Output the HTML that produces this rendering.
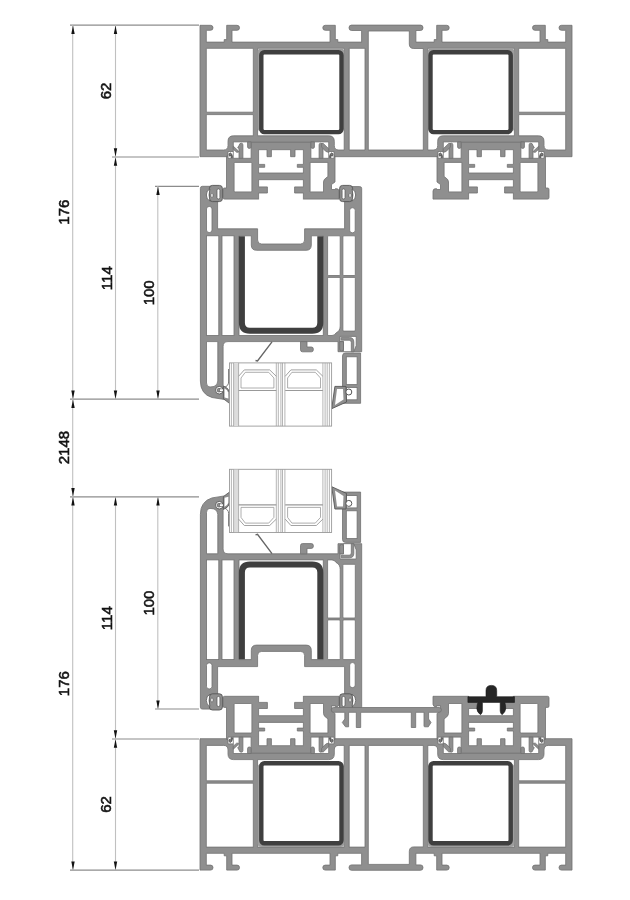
<!DOCTYPE html>
<html><head><meta charset="utf-8"><style>
html,body{margin:0;padding:0;background:#fff;width:630px;height:900px;overflow:hidden}
svg{display:block}
.g{fill:#8f8f8f;stroke:#707070;stroke-width:0.8}
.w{fill:#fff;stroke:#707070;stroke-width:0.8}
.d{fill:none;stroke:#3f3f3f;stroke-width:4}
.dl{stroke:#8c8c8c;stroke-width:1.2}
.dv{stroke:#c0c0c0;stroke-width:1.1}
.ar{fill:#111}
text{stroke:#111;stroke-width:0.55;font-family:"Liberation Sans",sans-serif;font-size:15px;fill:#111;text-anchor:middle}
</style></head><body>
<svg width="630" height="900" viewBox="0 0 630 900">
<g><path class="g" d="M200,25.3 L210.5,25.3 Q213,25.3 213,27.8 Q213,30.3 210.5,30.3 L206.3,30.3 L206.3,42.1 L224.2,42.1 L224.2,39.6 L226.7,39.6 L226.7,25.3 L237,25.3 Q239.5,25.3 239.5,27.8 Q239.5,30.3 237,30.3 L232,30.3 L232,42.1 L330,42.1 L330,30.3 L325.3,30.3 Q322.8,30.3 322.8,27.8 Q322.8,25.3 325.3,25.3 L335.3,25.3 L335.3,39.6 L337.8,39.6 L337.8,42.1 L361.6,42.1 L361.6,30.5 L351.5,30.5 Q349,30.5 349,27.8 Q349,25.1 351.5,25.1 L420.5,25.1 Q423,25.1 423,27.8 Q423,30.5 420.5,30.5 L415.9,30.5 L415.9,42.1 L434.2,42.1 L434.2,39.6 L436.7,39.6 L436.7,25.3 L446.7,25.3 Q449.2,25.3 449.2,27.8 Q449.2,30.3 446.7,30.3 L442,30.3 L442,42.1 L540,42.1 L540,30.3 L535,30.3 Q532.5,30.3 532.5,27.8 Q532.5,25.3 535,25.3 L545.3,25.3 L545.3,39.6 L547.8,39.6 L547.8,42.1 L565.7,42.1 L565.7,30.3 L561.5,30.3 Q559,30.3 559,27.8 Q559,25.3 561.5,25.3 L572,25.3 L572,156.7 L200,156.7 Z"/><g><path class="w" d="M206.3,48.3 H253.3 V112.2 H206.3 Z"/><path class="w" d="M206.3,114.6 H253.3 V135.8 H233.5 Q228,135.8 228,141.3 V145.5 Q228,150 223.5,150 H206.3 Z"/><path class="w" d="M257.6,48.3 H344.2 V150 H338.8 Q334.3,150 334.3,145.5 V141.3 Q334.3,135.8 328.8,135.8 H257.6 Z"/><rect x="257.6" y="48.3" width="86.6" height="83" rx="3.6" fill="#9d9d9d"/><rect x="262" y="53" width="78.5" height="78" fill="#fff"/><rect class="d" style="stroke-width:4.4" x="261.3" y="52.2" width="80.2" height="79.9" rx="3"/></g><g transform="translate(772,0) scale(-1,1)"><path class="w" d="M206.3,48.3 H253.3 V112.2 H206.3 Z"/><path class="w" d="M206.3,114.6 H253.3 V135.8 H233.5 Q228,135.8 228,141.3 V145.5 Q228,150 223.5,150 H206.3 Z"/><path class="w" d="M257.6,48.3 H344.2 V150 H338.8 Q334.3,150 334.3,145.5 V141.3 Q334.3,135.8 328.8,135.8 H257.6 Z"/><rect x="257.6" y="48.3" width="86.6" height="83" rx="3.6" fill="#9d9d9d"/><rect x="262" y="53" width="78.5" height="78" fill="#fff"/><rect class="d" style="stroke-width:4.4" x="261.3" y="52.2" width="80.2" height="79.9" rx="3"/></g><path class="w" d="M349.2,48.3 H365 V150 H349.2 Z"/><path class="w" d="M368.3,31 H409.3 V44 Q409.3,48.5 413.8,48.5 H423.3 V150 H368.3 Z"/><g transform="translate(281,0) scale(-1,1)"><path class="g" d="M-54,156 H54.5 V188 H56.8 Q58,188 58,189.5 V197.5 Q58,199.1 56.5,199.1 H-58 V191 Q-58,188.6 -54.5,188.6 V189.5 H-50.5 V184.5 L-54,182 Z"/><rect x="-52.4" y="141.5" width="104.8" height="17.5" fill="#8f8f8f"/><line x1="-29.7" y1="142.2" x2="29.7" y2="142.2" stroke="#707070" stroke-width="0.8"/><path class="w" d="M-22.4,149.7 H-14 V156.7 H-9.6 V149.7 H9.6 V156.7 H14 V149.7 H22.4 V164.4 H16.3 V167.3 H22.4 V173 H-22.4 V167.3 H-16.3 V164.4 H-22.4 Z"/><path class="w" d="M-22.4,179.7 H22.4 V186.9 H13.6 V193 H22.4 V201 H-22.4 V193 H-13.6 V186.9 H-22.4 Z"/><rect x="-23" y="199.55" width="46" height="4.5" fill="#fff"/><path class="w" d="M-46.9,162.4 H-29.1 V191.9 H-42.5 V182 Q-42.5,179.5 -45,178 L-46.9,176.5 Z"/><rect class="w" x="29.1" y="162.4" width="17.8" height="29.5" rx="1"/><path class="w" d="M46.5,151.5 L53,151.5 L53,158.3 L46.5,158.3 Z"/><path d="M48.3,157.6 Q48.8,153.2 50.8,152.8 Q52.4,153.6 52,155.4 L51,156.2 L49.8,155 L50,157.6 Z" fill="#7d7d7d" stroke="#444" stroke-width="0.7"/><path class="w" d="M29.9,141.9 L47.7,141.9 L47.7,158.3 L29.9,158.3 Z"/><path class="g" d="M29.9,141.9 V147 Q29.9,148.4 31.65,148.4 Q33.4,148.4 33.4,147 V141.9 Z"/><path class="g" d="M38.1,158.3 V144.8 Q38.1,143.2 39.8,143.2 Q41.5,143.2 42,145.5 L43.3,147.8 L42,148.5 V158.3 Z"/><path class="g" d="M47.7,146.2 L47.7,149.2 L44.4,152.2 L42.6,152.2 L42.6,151 Z"/><path class="w" d="M-46.5,151.5 L-53,151.5 L-53,158.3 L-46.5,158.3 Z"/><path d="M-48.3,157.6 Q-48.8,153.2 -50.8,152.8 Q-52.4,153.6 -52,155.4 L-51,156.2 L-49.8,155 L-50,157.6 Z" fill="#7d7d7d" stroke="#444" stroke-width="0.7"/><path class="w" d="M-29.9,141.9 L-47.7,141.9 L-47.7,158.3 L-29.9,158.3 Z"/><path class="g" d="M-29.9,141.9 V147 Q-29.9,148.4 -31.65,148.4 Q-33.4,148.4 -33.4,147 V141.9 Z"/><path class="g" d="M-38.1,158.3 V144.8 Q-38.1,143.2 -39.8,143.2 Q-41.5,143.2 -42,145.5 L-43.3,147.8 L-42,148.5 V158.3 Z"/><path class="g" d="M-47.7,148.8 L-42.2,143.4 L-40.6,143.6 L-40.6,147 L-44.8,151.4 L-47.7,152.4 Z"/></g><g transform="translate(491,0)"><path class="g" d="M-54,156 H54.5 V188 H56.8 Q58,188 58,189.5 V197.5 Q58,199.1 56.5,199.1 H-58 V191 Q-58,188.6 -54.5,188.6 V189.5 H-50.5 V184.5 L-54,182 Z"/><rect x="-52.4" y="141.5" width="104.8" height="17.5" fill="#8f8f8f"/><line x1="-29.7" y1="142.2" x2="29.7" y2="142.2" stroke="#707070" stroke-width="0.8"/><path class="w" d="M-22.4,149.7 H-14 V156.7 H-9.6 V149.7 H9.6 V156.7 H14 V149.7 H22.4 V164.4 H16.3 V167.3 H22.4 V173 H-22.4 V167.3 H-16.3 V164.4 H-22.4 Z"/><path class="w" d="M-22.4,179.7 H22.4 V186.9 H13.6 V193 H22.4 V201 H-22.4 V193 H-13.6 V186.9 H-22.4 Z"/><rect x="-23" y="199.55" width="46" height="4.5" fill="#fff"/><path class="w" d="M-46.9,162.4 H-29.1 V191.9 H-42.5 V182 Q-42.5,179.5 -45,178 L-46.9,176.5 Z"/><rect class="w" x="29.1" y="162.4" width="17.8" height="29.5" rx="1"/><path class="w" d="M46.5,151.5 L53,151.5 L53,158.3 L46.5,158.3 Z"/><path d="M48.3,157.6 Q48.8,153.2 50.8,152.8 Q52.4,153.6 52,155.4 L51,156.2 L49.8,155 L50,157.6 Z" fill="#7d7d7d" stroke="#444" stroke-width="0.7"/><path class="w" d="M29.9,141.9 L47.7,141.9 L47.7,158.3 L29.9,158.3 Z"/><path class="g" d="M29.9,141.9 V147 Q29.9,148.4 31.65,148.4 Q33.4,148.4 33.4,147 V141.9 Z"/><path class="g" d="M38.1,158.3 V144.8 Q38.1,143.2 39.8,143.2 Q41.5,143.2 42,145.5 L43.3,147.8 L42,148.5 V158.3 Z"/><path class="g" d="M47.7,146.2 L47.7,149.2 L44.4,152.2 L42.6,152.2 L42.6,151 Z"/><path class="w" d="M-46.5,151.5 L-53,151.5 L-53,158.3 L-46.5,158.3 Z"/><path d="M-48.3,157.6 Q-48.8,153.2 -50.8,152.8 Q-52.4,153.6 -52,155.4 L-51,156.2 L-49.8,155 L-50,157.6 Z" fill="#7d7d7d" stroke="#444" stroke-width="0.7"/><path class="w" d="M-29.9,141.9 L-47.7,141.9 L-47.7,158.3 L-29.9,158.3 Z"/><path class="g" d="M-29.9,141.9 V147 Q-29.9,148.4 -31.65,148.4 Q-33.4,148.4 -33.4,147 V141.9 Z"/><path class="g" d="M-38.1,158.3 V144.8 Q-38.1,143.2 -39.8,143.2 Q-41.5,143.2 -42,145.5 L-43.3,147.8 L-42,148.5 V158.3 Z"/><path class="g" d="M-47.7,148.8 L-42.2,143.4 L-40.6,143.6 L-40.6,147 L-44.8,151.4 L-47.7,152.4 Z"/></g><path class="g" d="M202.4,186.3 H217.6 V228.8 H257.6 V240 Q257.6,244 261.6,244 H300.6 Q304.6,244 304.6,240 V228.8 H344.6 V186.6 H359.7 Q361.7,186.6 361.7,188.6 V351.7 H338 V341.6 H228 Q223.1,341.6 223.1,346.5 V385 L224.5,399.5 L212,397.5 Q200.4,394 200.4,381 V188.3 Q200.4,186.3 202.4,186.3 Z"/><rect class="w" x="206.5" y="206.5" width="5.5" height="26" rx="2.5"/><rect class="w" x="349.7" y="207.8" width="5.5" height="25" rx="2.5"/><rect class="w" x="206.5" y="235.8" width="12.3" height="99.7"/><rect class="w" x="222" y="235.8" width="12" height="99.7"/><path class="w" d="M239,235.8 H251.3 V245 Q251.3,250.3 256.6,250.3 H306 Q311.3,250.3 311.3,245 V235.8 H323.3 V335.5 H239 Z"/><path class="d" style="stroke-width:6" d="M241.9,236.2 V322.8 Q241.9,330.8 249.9,330.8 H312.3 Q320.3,330.8 320.3,322.8 V236.2"/><rect class="w" x="327.6" y="235.8" width="12.6" height="39.7" rx="1"/><path class="w" d="M327.6,277.4 H340.2 V326 Q340.2,331 336,333 Q334.6,335.5 332,335.5 H327.6 Z"/><rect class="w" x="342.9" y="235.8" width="12.4" height="39.7" rx="1"/><rect class="w" x="342.9" y="277.4" width="12.4" height="53.7" rx="1"/><path class="w" d="M206.5,341.6 H217.8 V381 Q217.8,385 214,386.5 L210,387 Q206.5,387 206.5,383 Z"/><path class="w" d="M340,336.4 H356.2 V345.5 L353.8,351.7 H343.5 V341.6 H340 Z"/><path class="g" d="M341.2,337.6 H349.5 Q353.8,337.6 353.8,342 V351.7 H351.3 V342.5 Q351.3,340.2 349.2,340.2 H341.2 Z"/><path class="g" d="M339.7,341.6 H343.5 V349 Q343.5,351 341.6,351 Q339.7,351 339.7,349 Z"/><path class="g" d="M300.5,341.6 H307 V347 H311.5 Q313.4,347 313.4,349.4 Q313.4,351.8 311.5,351.8 H302.5 Q300.5,351.8 300.5,349.8 Z"/><circle cx="219.3" cy="390.2" r="3.8" fill="#fff" stroke="#555" stroke-width="0.9"/><circle cx="219" cy="390.2" r="1.9" fill="#8f8f8f" stroke="#555" stroke-width="0.6"/><rect x="219.4" y="388.9" width="4" height="2.6" fill="#fff" stroke="#555" stroke-width="0.6"/><path d="M228.6,369 V382 Q228.6,386 224,387.5" fill="none" stroke="#666" stroke-width="0.9"/><path d="M223.4,386 V398.8 L229.8,403.6 L229.6,393 Q229,388.5 225,386.8 Z" fill="#8f8f8f" stroke="#555" stroke-width="0.8"/><path d="M224.5,388.6 Q227.3,389.8 228.2,392.5 L228.4,398.6 L224.6,397.6 Z" fill="#fff"/><path class="g" d="M345.5,353 H360.6 V403.3 H342.5 V356 Q342.5,353 345.5,353 Z"/><rect class="w" x="346.3" y="356.8" width="10.8" height="27.8"/><rect class="w" x="346.3" y="387.5" width="10.8" height="12.3"/><path d="M334.9,386.4 H346 L346.5,402 L331.7,408.7 Z" fill="#8f8f8f" stroke="#555" stroke-width="0.9"/><path d="M337,389 H343 L343.5,399.5 L335,405 Z" fill="#fff"/><circle cx="348.8" cy="392" r="3" fill="#fff" stroke="#555" stroke-width="1"/><rect x="209.4" y="185.4" width="13" height="16.2" rx="3" fill="#8f8f8f" stroke="#555" stroke-width="0.9"/><rect x="217" y="188.9" width="2.9" height="10.1" rx="1.4" fill="#fff" stroke="#555" stroke-width="0.7"/><path d="M209.9,189 Q206.3,190.5 206.3,195 Q206.3,199.5 209.9,201 Q208.3,195 209.9,189 Z" fill="#fff" stroke="#555" stroke-width="0.8"/><rect x="210.9" y="193.6" width="2.1" height="3.6" rx="0.8" fill="#fff" stroke="#555" stroke-width="0.6"/><rect x="339.6" y="185.4" width="13" height="16.2" rx="3" fill="#8f8f8f" stroke="#555" stroke-width="0.9"/><rect x="342.1" y="188.9" width="2.9" height="10.1" rx="1.4" fill="#fff" stroke="#555" stroke-width="0.7"/><path d="M352.1,189 Q355.7,190.5 355.7,195 Q355.7,199.5 352.1,201 Q353.7,195 352.1,189 Z" fill="#fff" stroke="#555" stroke-width="0.8"/><rect x="349" y="193.6" width="2.1" height="3.6" rx="0.8" fill="#fff" stroke="#555" stroke-width="0.6"/><rect x="229.5" y="362.9" width="102.1" height="63.2" fill="#fff" stroke="#9a9a9a" stroke-width="0.9"/><rect x="233.6" y="363.3" width="5" height="62.4" fill="#dcdcdc"/><line x1="231.4" y1="362.9" x2="231.4" y2="426.1" stroke="#9c9c9c" stroke-width="0.75"/><line x1="233.6" y1="362.9" x2="233.6" y2="426.1" stroke="#9c9c9c" stroke-width="0.75"/><line x1="238.6" y1="362.9" x2="238.6" y2="426.1" stroke="#9c9c9c" stroke-width="0.75"/><line x1="276.3" y1="362.9" x2="276.3" y2="426.1" stroke="#9c9c9c" stroke-width="0.75"/><line x1="278.3" y1="362.9" x2="278.3" y2="426.1" stroke="#9c9c9c" stroke-width="0.75"/><line x1="280.9" y1="362.9" x2="280.9" y2="426.1" stroke="#9c9c9c" stroke-width="0.75"/><line x1="282.5" y1="362.9" x2="282.5" y2="426.1" stroke="#9c9c9c" stroke-width="0.75"/><line x1="284.9" y1="362.9" x2="284.9" y2="426.1" stroke="#9c9c9c" stroke-width="0.75"/><line x1="322.9" y1="362.9" x2="322.9" y2="426.1" stroke="#9c9c9c" stroke-width="0.75"/><line x1="325.1" y1="362.9" x2="325.1" y2="426.1" stroke="#9c9c9c" stroke-width="0.75"/><line x1="327.2" y1="362.9" x2="327.2" y2="426.1" stroke="#9c9c9c" stroke-width="0.75"/><line x1="329.4" y1="362.9" x2="329.4" y2="426.1" stroke="#9c9c9c" stroke-width="0.75"/><path d="M238.6,376.3 L244.3,369.9 H269.7 L276.3,376.3" fill="none" stroke="#999" stroke-width="0.9"/><path d="M241,378 L245.3,372.3 H268.7 L273.9,378 V388 H241 Z" fill="none" stroke="#999" stroke-width="0.8"/><line x1="238.6" y1="390.5" x2="276.3" y2="390.5" stroke="#999" stroke-width="1.1"/><path d="M285.2,376.3 L290.90000000000003,369.9 H316.3 L322.90000000000003,376.3" fill="none" stroke="#999" stroke-width="0.9"/><path d="M287.6,378 L291.90000000000003,372.3 H315.3 L320.5,378 V388 H287.6 Z" fill="none" stroke="#999" stroke-width="0.8"/><line x1="285.2" y1="390.5" x2="322.90000000000003" y2="390.5" stroke="#999" stroke-width="1.1"/><path d="M255.5,360.5 L257.5,361 L272,341.8" stroke="#666" stroke-width="1.4" fill="none"/></g>
<g transform="translate(0,895.4) scale(1,-1)"><path class="g" d="M200,25.3 L210.5,25.3 Q213,25.3 213,27.8 Q213,30.3 210.5,30.3 L206.3,30.3 L206.3,42.1 L224.2,42.1 L224.2,39.6 L226.7,39.6 L226.7,25.3 L237,25.3 Q239.5,25.3 239.5,27.8 Q239.5,30.3 237,30.3 L232,30.3 L232,42.1 L330,42.1 L330,30.3 L325.3,30.3 Q322.8,30.3 322.8,27.8 Q322.8,25.3 325.3,25.3 L335.3,25.3 L335.3,39.6 L337.8,39.6 L337.8,42.1 L361.6,42.1 L361.6,30.5 L351.5,30.5 Q349,30.5 349,27.8 Q349,25.1 351.5,25.1 L420.5,25.1 Q423,25.1 423,27.8 Q423,30.5 420.5,30.5 L415.9,30.5 L415.9,42.1 L434.2,42.1 L434.2,39.6 L436.7,39.6 L436.7,25.3 L446.7,25.3 Q449.2,25.3 449.2,27.8 Q449.2,30.3 446.7,30.3 L442,30.3 L442,42.1 L540,42.1 L540,30.3 L535,30.3 Q532.5,30.3 532.5,27.8 Q532.5,25.3 535,25.3 L545.3,25.3 L545.3,39.6 L547.8,39.6 L547.8,42.1 L565.7,42.1 L565.7,30.3 L561.5,30.3 Q559,30.3 559,27.8 Q559,25.3 561.5,25.3 L572,25.3 L572,156.7 L200,156.7 Z"/><g><path class="w" d="M206.3,48.3 H253.3 V112.2 H206.3 Z"/><path class="w" d="M206.3,114.6 H253.3 V135.8 H233.5 Q228,135.8 228,141.3 V145.5 Q228,150 223.5,150 H206.3 Z"/><path class="w" d="M257.6,48.3 H344.2 V150 H338.8 Q334.3,150 334.3,145.5 V141.3 Q334.3,135.8 328.8,135.8 H257.6 Z"/><rect x="257.6" y="48.3" width="86.6" height="83" rx="3.6" fill="#9d9d9d"/><rect x="262" y="53" width="78.5" height="78" fill="#fff"/><rect class="d" style="stroke-width:4.4" x="261.3" y="52.2" width="80.2" height="79.9" rx="3"/></g><g transform="translate(772,0) scale(-1,1)"><path class="w" d="M206.3,48.3 H253.3 V112.2 H206.3 Z"/><path class="w" d="M206.3,114.6 H253.3 V135.8 H233.5 Q228,135.8 228,141.3 V145.5 Q228,150 223.5,150 H206.3 Z"/><path class="w" d="M257.6,48.3 H344.2 V150 H338.8 Q334.3,150 334.3,145.5 V141.3 Q334.3,135.8 328.8,135.8 H257.6 Z"/><rect x="257.6" y="48.3" width="86.6" height="83" rx="3.6" fill="#9d9d9d"/><rect x="262" y="53" width="78.5" height="78" fill="#fff"/><rect class="d" style="stroke-width:4.4" x="261.3" y="52.2" width="80.2" height="79.9" rx="3"/></g><path class="w" d="M349.2,48.3 H365 V150 H349.2 Z"/><path class="w" d="M368.3,31 H409.3 V44 Q409.3,48.5 413.8,48.5 H423.3 V150 H368.3 Z"/><g transform="translate(281,0) scale(-1,1)"><path class="g" d="M-54,156 H54.5 V188 H56.8 Q58,188 58,189.5 V197.5 Q58,199.1 56.5,199.1 H-58 V191 Q-58,188.6 -54.5,188.6 V189.5 H-50.5 V184.5 L-54,182 Z"/><rect x="-52.4" y="141.5" width="104.8" height="17.5" fill="#8f8f8f"/><line x1="-29.7" y1="142.2" x2="29.7" y2="142.2" stroke="#707070" stroke-width="0.8"/><path class="w" d="M-22.4,149.7 H-14 V156.7 H-9.6 V149.7 H9.6 V156.7 H14 V149.7 H22.4 V164.4 H16.3 V167.3 H22.4 V173 H-22.4 V167.3 H-16.3 V164.4 H-22.4 Z"/><path class="w" d="M-22.4,179.7 H22.4 V186.9 H13.6 V193 H22.4 V201 H-22.4 V193 H-13.6 V186.9 H-22.4 Z"/><rect x="-23" y="199.55" width="46" height="4.5" fill="#fff"/><path class="w" d="M-46.9,162.4 H-29.1 V191.9 H-42.5 V182 Q-42.5,179.5 -45,178 L-46.9,176.5 Z"/><rect class="w" x="29.1" y="162.4" width="17.8" height="29.5" rx="1"/><path class="w" d="M46.5,151.5 L53,151.5 L53,158.3 L46.5,158.3 Z"/><path d="M48.3,157.6 Q48.8,153.2 50.8,152.8 Q52.4,153.6 52,155.4 L51,156.2 L49.8,155 L50,157.6 Z" fill="#7d7d7d" stroke="#444" stroke-width="0.7"/><path class="w" d="M29.9,141.9 L47.7,141.9 L47.7,158.3 L29.9,158.3 Z"/><path class="g" d="M29.9,141.9 V147 Q29.9,148.4 31.65,148.4 Q33.4,148.4 33.4,147 V141.9 Z"/><path class="g" d="M38.1,158.3 V144.8 Q38.1,143.2 39.8,143.2 Q41.5,143.2 42,145.5 L43.3,147.8 L42,148.5 V158.3 Z"/><path class="g" d="M47.7,146.2 L47.7,149.2 L44.4,152.2 L42.6,152.2 L42.6,151 Z"/><path class="w" d="M-46.5,151.5 L-53,151.5 L-53,158.3 L-46.5,158.3 Z"/><path d="M-48.3,157.6 Q-48.8,153.2 -50.8,152.8 Q-52.4,153.6 -52,155.4 L-51,156.2 L-49.8,155 L-50,157.6 Z" fill="#7d7d7d" stroke="#444" stroke-width="0.7"/><path class="w" d="M-29.9,141.9 L-47.7,141.9 L-47.7,158.3 L-29.9,158.3 Z"/><path class="g" d="M-29.9,141.9 V147 Q-29.9,148.4 -31.65,148.4 Q-33.4,148.4 -33.4,147 V141.9 Z"/><path class="g" d="M-38.1,158.3 V144.8 Q-38.1,143.2 -39.8,143.2 Q-41.5,143.2 -42,145.5 L-43.3,147.8 L-42,148.5 V158.3 Z"/><path class="g" d="M-47.7,148.8 L-42.2,143.4 L-40.6,143.6 L-40.6,147 L-44.8,151.4 L-47.7,152.4 Z"/></g><g transform="translate(491,0)"><path class="g" d="M-54,156 H54.5 V188 H56.8 Q58,188 58,189.5 V197.5 Q58,199.1 56.5,199.1 H-58 V191 Q-58,188.6 -54.5,188.6 V189.5 H-50.5 V184.5 L-54,182 Z"/><rect x="-52.4" y="141.5" width="104.8" height="17.5" fill="#8f8f8f"/><line x1="-29.7" y1="142.2" x2="29.7" y2="142.2" stroke="#707070" stroke-width="0.8"/><path class="w" d="M-22.4,149.7 H-14 V156.7 H-9.6 V149.7 H9.6 V156.7 H14 V149.7 H22.4 V164.4 H16.3 V167.3 H22.4 V173 H-22.4 V167.3 H-16.3 V164.4 H-22.4 Z"/><path class="w" d="M-22.4,179.7 H22.4 V186.9 H13.6 V193 H22.4 V201 H-22.4 V193 H-13.6 V186.9 H-22.4 Z"/><rect x="-23" y="199.55" width="46" height="4.5" fill="#fff"/><path class="w" d="M-46.9,162.4 H-29.1 V191.9 H-42.5 V182 Q-42.5,179.5 -45,178 L-46.9,176.5 Z"/><rect class="w" x="29.1" y="162.4" width="17.8" height="29.5" rx="1"/><path class="w" d="M46.5,151.5 L53,151.5 L53,158.3 L46.5,158.3 Z"/><path d="M48.3,157.6 Q48.8,153.2 50.8,152.8 Q52.4,153.6 52,155.4 L51,156.2 L49.8,155 L50,157.6 Z" fill="#7d7d7d" stroke="#444" stroke-width="0.7"/><path class="w" d="M29.9,141.9 L47.7,141.9 L47.7,158.3 L29.9,158.3 Z"/><path class="g" d="M29.9,141.9 V147 Q29.9,148.4 31.65,148.4 Q33.4,148.4 33.4,147 V141.9 Z"/><path class="g" d="M38.1,158.3 V144.8 Q38.1,143.2 39.8,143.2 Q41.5,143.2 42,145.5 L43.3,147.8 L42,148.5 V158.3 Z"/><path class="g" d="M47.7,146.2 L47.7,149.2 L44.4,152.2 L42.6,152.2 L42.6,151 Z"/><path class="w" d="M-46.5,151.5 L-53,151.5 L-53,158.3 L-46.5,158.3 Z"/><path d="M-48.3,157.6 Q-48.8,153.2 -50.8,152.8 Q-52.4,153.6 -52,155.4 L-51,156.2 L-49.8,155 L-50,157.6 Z" fill="#7d7d7d" stroke="#444" stroke-width="0.7"/><path class="w" d="M-29.9,141.9 L-47.7,141.9 L-47.7,158.3 L-29.9,158.3 Z"/><path class="g" d="M-29.9,141.9 V147 Q-29.9,148.4 -31.65,148.4 Q-33.4,148.4 -33.4,147 V141.9 Z"/><path class="g" d="M-38.1,158.3 V144.8 Q-38.1,143.2 -39.8,143.2 Q-41.5,143.2 -42,145.5 L-43.3,147.8 L-42,148.5 V158.3 Z"/><path class="g" d="M-47.7,148.8 L-42.2,143.4 L-40.6,143.6 L-40.6,147 L-44.8,151.4 L-47.7,152.4 Z"/></g><path class="g" d="M202.4,186.3 H217.6 V228.8 H257.6 V240 Q257.6,244 261.6,244 H300.6 Q304.6,244 304.6,240 V228.8 H344.6 V186.6 H359.7 Q361.7,186.6 361.7,188.6 V351.7 H338 V341.6 H228 Q223.1,341.6 223.1,346.5 V385 L224.5,399.5 L212,397.5 Q200.4,394 200.4,381 V188.3 Q200.4,186.3 202.4,186.3 Z"/><rect class="w" x="206.5" y="206.5" width="5.5" height="26" rx="2.5"/><rect class="w" x="349.7" y="207.8" width="5.5" height="25" rx="2.5"/><rect class="w" x="206.5" y="235.8" width="12.3" height="99.7"/><rect class="w" x="222" y="235.8" width="12" height="99.7"/><path class="w" d="M239,235.8 H251.3 V245 Q251.3,250.3 256.6,250.3 H306 Q311.3,250.3 311.3,245 V235.8 H323.3 V335.5 H239 Z"/><path class="d" style="stroke-width:6" d="M241.9,236.2 V322.8 Q241.9,330.8 249.9,330.8 H312.3 Q320.3,330.8 320.3,322.8 V236.2"/><rect class="w" x="327.6" y="235.8" width="12.6" height="39.7" rx="1"/><path class="w" d="M327.6,277.4 H340.2 V326 Q340.2,331 336,333 Q334.6,335.5 332,335.5 H327.6 Z"/><rect class="w" x="342.9" y="235.8" width="12.4" height="39.7" rx="1"/><rect class="w" x="342.9" y="277.4" width="12.4" height="53.7" rx="1"/><path class="w" d="M206.5,341.6 H217.8 V381 Q217.8,385 214,386.5 L210,387 Q206.5,387 206.5,383 Z"/><path class="w" d="M340,336.4 H356.2 V345.5 L353.8,351.7 H343.5 V341.6 H340 Z"/><path class="g" d="M341.2,337.6 H349.5 Q353.8,337.6 353.8,342 V351.7 H351.3 V342.5 Q351.3,340.2 349.2,340.2 H341.2 Z"/><path class="g" d="M339.7,341.6 H343.5 V349 Q343.5,351 341.6,351 Q339.7,351 339.7,349 Z"/><path class="g" d="M300.5,341.6 H307 V347 H311.5 Q313.4,347 313.4,349.4 Q313.4,351.8 311.5,351.8 H302.5 Q300.5,351.8 300.5,349.8 Z"/><circle cx="219.3" cy="390.2" r="3.8" fill="#fff" stroke="#555" stroke-width="0.9"/><circle cx="219" cy="390.2" r="1.9" fill="#8f8f8f" stroke="#555" stroke-width="0.6"/><rect x="219.4" y="388.9" width="4" height="2.6" fill="#fff" stroke="#555" stroke-width="0.6"/><path d="M228.6,369 V382 Q228.6,386 224,387.5" fill="none" stroke="#666" stroke-width="0.9"/><path d="M223.4,386 V398.8 L229.8,403.6 L229.6,393 Q229,388.5 225,386.8 Z" fill="#8f8f8f" stroke="#555" stroke-width="0.8"/><path d="M224.5,388.6 Q227.3,389.8 228.2,392.5 L228.4,398.6 L224.6,397.6 Z" fill="#fff"/><path class="g" d="M345.5,353 H360.6 V403.3 H342.5 V356 Q342.5,353 345.5,353 Z"/><rect class="w" x="346.3" y="356.8" width="10.8" height="27.8"/><rect class="w" x="346.3" y="387.5" width="10.8" height="12.3"/><path d="M334.9,386.4 H346 L346.5,402 L331.7,408.7 Z" fill="#8f8f8f" stroke="#555" stroke-width="0.9"/><path d="M337,389 H343 L343.5,399.5 L335,405 Z" fill="#fff"/><circle cx="348.8" cy="392" r="3" fill="#fff" stroke="#555" stroke-width="1"/><rect x="209.4" y="185.4" width="13" height="16.2" rx="3" fill="#8f8f8f" stroke="#555" stroke-width="0.9"/><rect x="217" y="188.9" width="2.9" height="10.1" rx="1.4" fill="#fff" stroke="#555" stroke-width="0.7"/><path d="M209.9,189 Q206.3,190.5 206.3,195 Q206.3,199.5 209.9,201 Q208.3,195 209.9,189 Z" fill="#fff" stroke="#555" stroke-width="0.8"/><rect x="210.9" y="193.6" width="2.1" height="3.6" rx="0.8" fill="#fff" stroke="#555" stroke-width="0.6"/><rect x="339.6" y="185.4" width="13" height="16.2" rx="3" fill="#8f8f8f" stroke="#555" stroke-width="0.9"/><rect x="342.1" y="188.9" width="2.9" height="10.1" rx="1.4" fill="#fff" stroke="#555" stroke-width="0.7"/><path d="M352.1,189 Q355.7,190.5 355.7,195 Q355.7,199.5 352.1,201 Q353.7,195 352.1,189 Z" fill="#fff" stroke="#555" stroke-width="0.8"/><rect x="349" y="193.6" width="2.1" height="3.6" rx="0.8" fill="#fff" stroke="#555" stroke-width="0.6"/><rect x="229.5" y="362.9" width="102.1" height="63.2" fill="#fff" stroke="#9a9a9a" stroke-width="0.9"/><rect x="233.6" y="363.3" width="5" height="62.4" fill="#dcdcdc"/><line x1="231.4" y1="362.9" x2="231.4" y2="426.1" stroke="#9c9c9c" stroke-width="0.75"/><line x1="233.6" y1="362.9" x2="233.6" y2="426.1" stroke="#9c9c9c" stroke-width="0.75"/><line x1="238.6" y1="362.9" x2="238.6" y2="426.1" stroke="#9c9c9c" stroke-width="0.75"/><line x1="276.3" y1="362.9" x2="276.3" y2="426.1" stroke="#9c9c9c" stroke-width="0.75"/><line x1="278.3" y1="362.9" x2="278.3" y2="426.1" stroke="#9c9c9c" stroke-width="0.75"/><line x1="280.9" y1="362.9" x2="280.9" y2="426.1" stroke="#9c9c9c" stroke-width="0.75"/><line x1="282.5" y1="362.9" x2="282.5" y2="426.1" stroke="#9c9c9c" stroke-width="0.75"/><line x1="284.9" y1="362.9" x2="284.9" y2="426.1" stroke="#9c9c9c" stroke-width="0.75"/><line x1="322.9" y1="362.9" x2="322.9" y2="426.1" stroke="#9c9c9c" stroke-width="0.75"/><line x1="325.1" y1="362.9" x2="325.1" y2="426.1" stroke="#9c9c9c" stroke-width="0.75"/><line x1="327.2" y1="362.9" x2="327.2" y2="426.1" stroke="#9c9c9c" stroke-width="0.75"/><line x1="329.4" y1="362.9" x2="329.4" y2="426.1" stroke="#9c9c9c" stroke-width="0.75"/><path d="M238.6,376.3 L244.3,369.9 H269.7 L276.3,376.3" fill="none" stroke="#999" stroke-width="0.9"/><path d="M241,378 L245.3,372.3 H268.7 L273.9,378 V388 H241 Z" fill="none" stroke="#999" stroke-width="0.8"/><line x1="238.6" y1="390.5" x2="276.3" y2="390.5" stroke="#999" stroke-width="1.1"/><path d="M285.2,376.3 L290.90000000000003,369.9 H316.3 L322.90000000000003,376.3" fill="none" stroke="#999" stroke-width="0.9"/><path d="M287.6,378 L291.90000000000003,372.3 H315.3 L320.5,378 V388 H287.6 Z" fill="none" stroke="#999" stroke-width="0.8"/><line x1="285.2" y1="390.5" x2="322.90000000000003" y2="390.5" stroke="#999" stroke-width="1.1"/><path d="M255.5,360.5 L257.5,361 L272,341.8" stroke="#666" stroke-width="1.4" fill="none"/></g>
<path class="g" d="M333.5,707.5 H439 Q441.4,707.5 441.4,709.9 Q441.4,712.3 439,712.3 H428.6 V719 L431,722.5 L428.3,726.8 H424.8 Q424,726.8 424,726 V712.3 H415.7 V727.5 H411.3 V712.3 H360.7 V727.5 H356.3 V712.3 H348.6 V726.8 H345.5 L342.3,722.5 L344.8,719 V712.3 H333.5 Q331.2,712.3 331.2,709.9 Q331.2,707.5 333.5,707.5 Z"/><path d="M467.9,696.7 H486 V690.5 Q486,685.4 491.35,685.4 Q496.7,685.4 496.7,690.5 V696.7 H514.5 V702.4 H504.8 Q505.9,706 505.7,709 Q505.3,712.5 502,714.7 Q500.2,713 500.2,711 V702.4 H482.4 V711 Q482.4,713 480.6,714.7 Q477.2,712.5 476.9,709 Q476.7,706 477.9,702.4 H467.9 Z" fill="#262626" stroke="#1a1a1a" stroke-width="0.6"/>
<g style="opacity:0.995"><line class="dl" x1="70" y1="25.2" x2="199" y2="25.2"/>
<line class="dl" x1="112" y1="157" x2="199" y2="157"/>
<line class="dl" x1="155" y1="186.4" x2="199" y2="186.4"/>
<line class="dl" x1="70" y1="399.2" x2="199" y2="399.2"/>
<line class="dl" x1="70" y1="496.8" x2="199" y2="496.8"/>
<line class="dl" x1="155" y1="709" x2="199" y2="709"/>
<line class="dl" x1="112" y1="739" x2="199" y2="739"/>
<line class="dl" x1="70" y1="870.2" x2="199" y2="870.2"/>
<line class="dv" x1="72.7" y1="25" x2="72.7" y2="870"/>
<line class="dv" x1="115.5" y1="25" x2="115.5" y2="399"/>
<line class="dv" x1="115.5" y1="497" x2="115.5" y2="870"/>
<line class="dv" x1="157.8" y1="186" x2="157.8" y2="399"/>
<line class="dv" x1="157.8" y1="497" x2="157.8" y2="709"/>
<path class="ar" d="M73,25.5 L71.3,34.0 L74.7,34.0 Z"/>
<path class="ar" d="M115.5,25.5 L113.8,34.0 L117.2,34.0 Z"/>
<path class="ar" d="M115.5,156.7 L113.8,148.2 L117.2,148.2 Z"/>
<path class="ar" d="M115.5,157.3 L113.8,165.8 L117.2,165.8 Z"/>
<path class="ar" d="M158,186.6 L156.3,195.1 L159.7,195.1 Z"/>
<path class="ar" d="M73,399 L71.3,390.5 L74.7,390.5 Z"/>
<path class="ar" d="M73,399.4 L71.3,407.9 L74.7,407.9 Z"/>
<path class="ar" d="M115.5,399 L113.8,390.5 L117.2,390.5 Z"/>
<path class="ar" d="M158,399 L156.3,390.5 L159.7,390.5 Z"/>
<path class="ar" d="M73,496.6 L71.3,488.1 L74.7,488.1 Z"/>
<path class="ar" d="M73,497 L71.3,505.5 L74.7,505.5 Z"/>
<path class="ar" d="M115.5,497 L113.8,505.5 L117.2,505.5 Z"/>
<path class="ar" d="M158,497 L156.3,505.5 L159.7,505.5 Z"/>
<path class="ar" d="M158,709 L156.3,700.5 L159.7,700.5 Z"/>
<path class="ar" d="M115.5,738.8 L113.8,730.3 L117.2,730.3 Z"/>
<path class="ar" d="M115.5,739.2 L113.8,747.7 L117.2,747.7 Z"/>
<path class="ar" d="M73,870 L71.3,861.5 L74.7,861.5 Z"/>
<path class="ar" d="M115.5,870 L113.8,861.5 L117.2,861.5 Z"/>
<text x="0" y="0" transform="translate(111.4,91) rotate(-90)">62</text>
<text x="0" y="0" transform="translate(68.7,212.2) rotate(-90)">176</text>
<text x="0" y="0" transform="translate(111.5,278.2) rotate(-90)">114</text>
<text x="0" y="0" transform="translate(154,292.8) rotate(-90)">100</text>
<text x="0" y="0" transform="translate(68.6,447.6) rotate(-90)">2148</text>
<text x="0" y="0" transform="translate(154,603.1) rotate(-90)">100</text>
<text x="0" y="0" transform="translate(111.5,618.2) rotate(-90)">114</text>
<text x="0" y="0" transform="translate(68.7,683.7) rotate(-90)">176</text>
<text x="0" y="0" transform="translate(111.4,804.5) rotate(-90)">62</text></g>
</svg>
</body></html>
